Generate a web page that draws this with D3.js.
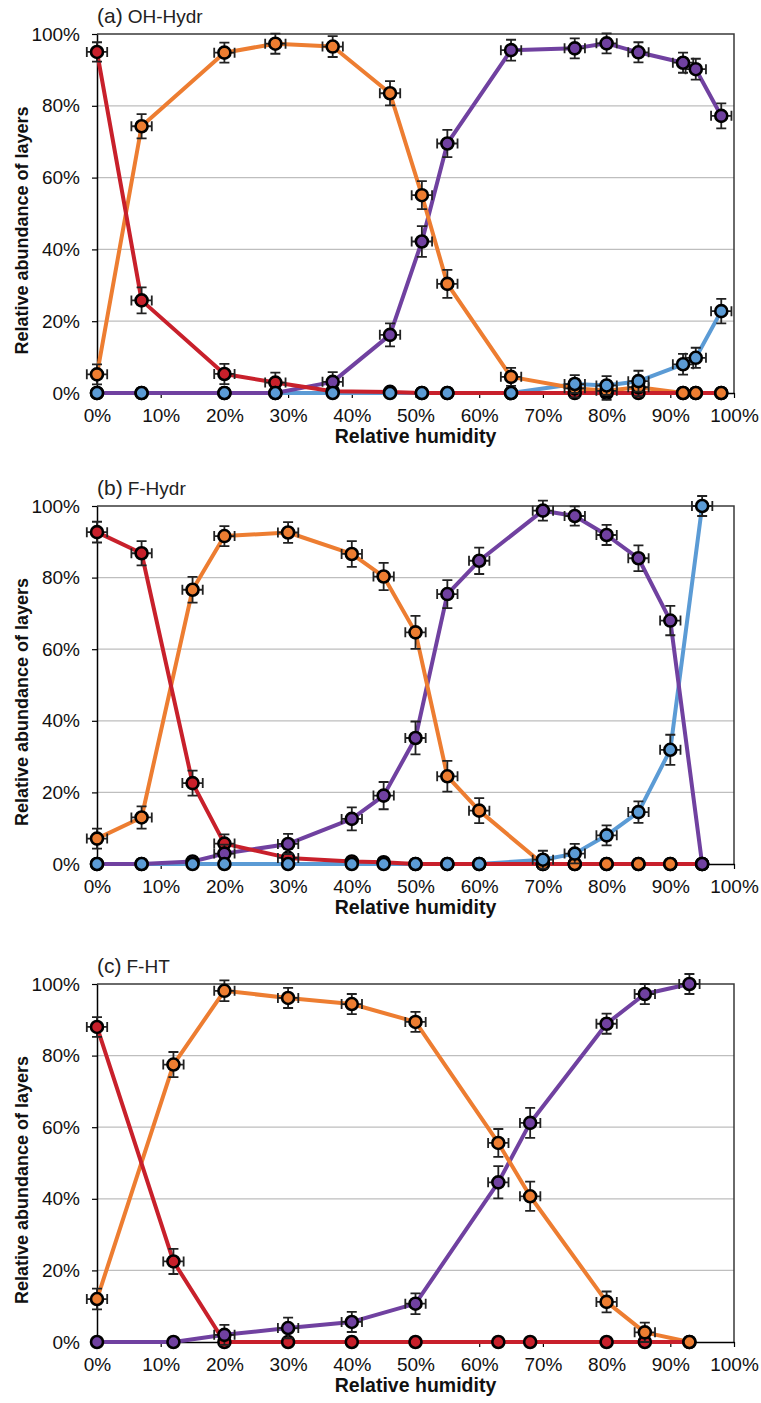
<!DOCTYPE html>
<html>
<head>
<meta charset="utf-8">
<script src="https://cdn.jsdelivr.net/npm/d3@7"></script>
<style>
  html, body { margin: 0; padding: 0; background: #fff; }
  svg { display: block; font-family: "Liberation Sans", Arial, Helvetica, sans-serif; }
</style>
</head>
<body>
<svg id="chart" width="761" height="1403"></svg>
<script>
// ---------------- DATA ----------------
const xTicks = [0, 10, 20, 30, 40, 50, 60, 70, 80, 90, 100];
const yTicks = [0, 20, 40, 60, 80, 100];
const xErrRH = 1.6; // horizontal error (RH %)

// (a) OH-Hydr
const rhA      = [0, 7, 20, 28, 37, 46, 51, 55, 65, 75, 80, 85, 92, 94, 98];
const redA     = [95, 25.8, 5.3, 2.9, 0.5, 0.3, 0, 0, 0, 0, 0, 0, 0, 0, 0];
const orangeA  = [5.2, 74.3, 94.8, 97.3, 96.5, 83.5, 55.1, 30.4, 4.5, 1.3, 0.6, 1.6, 0, 0, 0];
const purpleA  = [0, 0, 0, 0, 3.1, 16.2, 42.2, 69.5, 95.5, 96.0, 97.4, 94.9, 92.0, 90.2, 77.2];
const blueA    = [0, 0, 0, 0, 0, 0, 0, 0, 0, 2.5, 2.1, 3.3, 8.0, 9.8, 22.8];
const redErrA    = [2.7, 3.6, 2.8, 2.8, 0, 0, 0, 0, 0, 0, 0, 0, 0, 0, 0];
const orangeErrA = [2.8, 3.4, 2.8, 2.8, 2.9, 3.4, 3.9, 3.9, 2.5, 2.5, 2.5, 2.5, 0, 0, 0];
const purpleErrA = [0, 0, 0, 0, 2.7, 3.2, 4.3, 3.8, 2.9, 2.8, 2.8, 2.8, 2.8, 2.9, 3.5];
const blueErrA   = [0, 0, 0, 0, 0, 0, 0, 0, 0, 2.5, 2.6, 2.9, 2.9, 2.8, 3.4];

// (b) F-Hydr
const rhB      = [0, 7, 15, 20, 30, 40, 45, 50, 55, 60, 70, 75, 80, 85, 90, 95];
const redB     = [92.7, 86.8, 22.6, 5.7, 1.7, 0.7, 0.5, 0, 0, 0, 0, 0, 0, 0, 0, 0];
const orangeB  = [7.1, 13.0, 76.6, 91.6, 92.6, 86.6, 80.3, 64.7, 24.5, 14.9, 0, 0, 0, 0, 0, 0];
const purpleB  = [0, 0, 0.7, 2.9, 5.6, 12.6, 19.1, 35.2, 75.4, 84.7, 98.7, 97.2, 91.9, 85.4, 68.0, 0];
const blueB    = [0, 0, 0, 0, 0, 0, 0, 0, 0, 0, 1.2, 2.9, 8.0, 14.5, 31.9, 100];
const redErrB    = [2.9, 3.4, 3.5, 2.6, 2.5, 0, 0, 0, 0, 0, 0, 0, 0, 0, 0, 0];
const orangeErrB = [2.8, 3.1, 3.6, 2.8, 2.9, 3.6, 3.8, 4.6, 4.3, 3.5, 0, 0, 0, 0, 0, 0];
const purpleErrB = [0, 0, 0, 2.5, 2.8, 3.2, 3.8, 4.6, 3.9, 3.7, 2.8, 2.7, 2.8, 3.6, 4.1, 0];
const blueErrB   = [0, 0, 0, 0, 0, 0, 0, 0, 0, 0, 2.5, 2.7, 2.8, 3.0, 4.2, 2.8];

// (c) F-HT
const rhC      = [0, 12, 20, 30, 40, 50, 63, 68, 80, 86, 93];
const redC     = [88.0, 22.5, 0, 0, 0, 0, 0, 0, 0, 0, 0];
const orangeC  = [12.0, 77.5, 98.1, 96.1, 94.4, 89.4, 55.6, 40.7, 11.2, 2.7, 0];
const purpleC  = [0, 0, 2.0, 3.9, 5.6, 10.7, 44.6, 61.2, 88.9, 97.2, 100];
const redErrC    = [2.75, 3.5, 0, 0, 0, 0, 0, 0, 0, 0, 0];
const orangeErrC = [2.9, 3.5, 2.9, 2.8, 2.8, 2.8, 3.9, 4.1, 2.9, 2.7, 0];
const purpleErrC = [0, 0, 2.8, 2.9, 2.8, 2.9, 4.5, 4.2, 2.8, 2.8, 2.8];

const colors = { red: "#C8202B", orange: "#ED7D31", purple: "#7041A0", blue: "#5B9BD5" };

// ---------------- LAYOUT ----------------
const svg = d3.select("#chart");
const plotLeft = 97, plotRight = 734;
const fontTick = 19;

const panels = [
  { tag: "(a)", name: "OH-Hydr", top: 34, bottom: 393, rh: rhA,
    series: [
      { key: "red", v: redA, e: redErrA },
      { key: "orange", v: orangeA, e: orangeErrA },
      { key: "purple", v: purpleA, e: purpleErrA },
      { key: "blue", v: blueA, e: blueErrA } ] },
  { tag: "(b)", name: "F-Hydr", top: 506, bottom: 864, rh: rhB,
    series: [
      { key: "red", v: redB, e: redErrB },
      { key: "orange", v: orangeB, e: orangeErrB },
      { key: "purple", v: purpleB, e: purpleErrB },
      { key: "blue", v: blueB, e: blueErrB } ] },
  { tag: "(c)", name: "F-HT", top: 984, bottom: 1342, rh: rhC,
    series: [
      { key: "red", v: redC, e: redErrC },
      { key: "orange", v: orangeC, e: orangeErrC },
      { key: "purple", v: purpleC, e: purpleErrC } ] }
];

const lineOrder = ["blue", "purple", "orange", "red"];
const markerOrder = ["red", "orange", "purple", "blue"];

panels.forEach(p => {
  const x = d3.scaleLinear().domain([0, 100]).range([plotLeft, plotRight]);
  const y = d3.scaleLinear().domain([0, 100]).range([p.bottom, p.top]);
  const g = svg.append("g");

  // gridlines
  g.append("g").selectAll("line").data(yTicks.filter(t => t > 0 && t < 100)).join("line")
    .attr("x1", plotLeft).attr("x2", plotRight)
    .attr("y1", d => y(d)).attr("y2", d => y(d))
    .attr("stroke", "#BEBEBE").attr("stroke-width", 1.3);

  // plot-area border (top/right)
  g.append("path")
    .attr("d", `M${plotLeft},${y(100)}H${plotRight}V${y(0)}`)
    .attr("fill", "none").attr("stroke", "#3a3a3a").attr("stroke-width", 1.5);

  // axes
  const xAxis = d3.axisBottom(x).tickValues(xTicks).tickFormat(d => d + "%")
    .tickSize(5).tickPadding(11).tickSizeOuter(0);
  const gx = g.append("g").attr("transform", `translate(0,${p.bottom})`).call(xAxis);
  const yAxis = d3.axisLeft(y).tickValues(yTicks).tickFormat(d => d + "%")
    .tickSize(5).tickPadding(12).tickSizeOuter(0);
  const gy = g.append("g").attr("transform", `translate(${plotLeft},0)`).call(yAxis);
  [gx, gy].forEach(a => {
    a.select(".domain").attr("stroke", "#000").attr("stroke-width", 1.5);
    a.selectAll(".tick line").attr("stroke", "#000").attr("stroke-width", 1.2);
    a.selectAll(".tick text").attr("fill", "#111")
      .attr("font-size", fontTick).attr("font-family", "'Liberation Sans', Arial, sans-serif");
  });

  // axis titles
  g.append("text")
    .attr("x", (plotLeft + plotRight) / 2).attr("y", p.bottom + 50)
    .attr("text-anchor", "middle").attr("font-size", 19.5).attr("font-weight", "bold")
    .attr("fill", "#111").text("Relative humidity");
  g.append("text")
    .attr("transform", `translate(28,${(p.top + p.bottom) / 2 + 17}) rotate(-90)`)
    .attr("text-anchor", "middle").attr("font-size", 18).attr("font-weight", "bold")
    .attr("fill", "#111").text("Relative abundance of layers");

  // panel title
  const t = g.append("text").attr("x", plotLeft).attr("y", p.top - 11).attr("fill", "#222");
  t.append("tspan").attr("font-size", 21).text(p.tag);
  t.append("tspan").attr("font-size", 19).attr("dx", 5).text(p.name);

  // lines
  const line = d3.line().x(d => x(d[0])).y(d => y(d[1]));
  lineOrder.forEach(k => {
    const s = p.series.find(s => s.key === k);
    if (!s) return;
    g.append("path")
      .datum(p.rh.map((r, i) => [r, s.v[i]]))
      .attr("d", line).attr("fill", "none")
      .attr("stroke", colors[k]).attr("stroke-width", 4)
      .attr("stroke-linejoin", "round");
  });

  // error bars + markers
  markerOrder.forEach(k => {
    const s = p.series.find(s => s.key === k);
    if (!s) return;
    const pts = p.rh.map((r, i) => ({ r, v: s.v[i], e: s.e[i] }));
    const eb = g.append("g").attr("stroke", "#222").attr("stroke-width", 1.8).attr("fill", "none");
    pts.filter(d => d.e > 0).forEach(d => {
      const cx = x(d.r), cy = y(d.v);
      const y0 = y(d.v - d.e), y1 = y(d.v + d.e);
      const x0 = x(d.r - xErrRH), x1 = x(d.r + xErrRH);
      const cap = 5;
      eb.append("path").attr("d",
        `M${cx},${y0}V${y1}M${cx - cap},${y0}H${cx + cap}M${cx - cap},${y1}H${cx + cap}` +
        `M${x0},${cy}H${x1}M${x0},${cy - cap}V${cy + cap}M${x1},${cy - cap}V${cy + cap}`);
    });
    g.append("g").selectAll("circle").data(pts).join("circle")
      .attr("cx", d => x(d.r)).attr("cy", d => y(d.v)).attr("r", 6)
      .attr("fill", colors[k]).attr("stroke", "#000").attr("stroke-width", 2.6);
  });
});
</script>
</body>
</html>
